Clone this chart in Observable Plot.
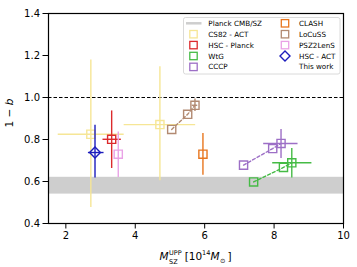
<!DOCTYPE html>
<html><head><meta charset="utf-8">
<script src="https://cdn.jsdelivr.net/npm/d3@7"></script>
<script src="https://cdn.jsdelivr.net/npm/@observablehq/plot@0.6"></script>
<style>body{margin:0;background:#fff} svg{display:block}</style>
</head><body><div id="chart"></div>
<script>
// ---- data ----
const xTicks = [2, 4, 6, 8, 10];
const yTicks = [0.4, 0.6, 0.8, 1.0, 1.2, 1.4];
const planckBand = [{lo: 0.54, hi: 0.62}];
const refLine = [1.0];

const cs82 = [
  {x: 2.72, y: 0.825, x1: 1.78, x2: 3.68, y1: 0.476, y2: 1.178},
  {x: 4.71, y: 0.871, x1: 3.68, x2: 5.74, y1: 0.603, y2: 1.146}
];
const hscPlanck = [{x: 3.32, y: 0.801, x1: 3.07, x2: 3.60, y1: 0.662, y2: 0.936}];
const hscAct = [{x: 2.84, y: 0.738, x1: 2.65, x2: 3.10, y1: 0.617, y2: 0.868}];
const psz2lens = [{x: 3.51, y: 0.730, y1: 0.619, y2: 0.836}];
const clash = [{x: 5.95, y: 0.730, y1: 0.630, y2: 0.829}];
const locuss = [
  {x: 5.05, y: 0.848},
  {x: 5.51, y: 0.920},
  {x: 5.72, y: 0.963, x1: 5.64, x2: 5.80, y1: 0.933, y2: 0.993}
];
const cccp = [
  {x: 7.12, y: 0.678},
  {x: 7.96, y: 0.757},
  {x: 8.20, y: 0.781, x1: 7.70, x2: 8.69, y1: 0.710, y2: 0.848}
];
const wtg = [
  {x: 7.41, y: 0.598},
  {x: 8.27, y: 0.667},
  {x: 8.51, y: 0.689, x1: 7.96, x2: 9.09, y1: 0.617, y2: 0.757}
];

const legendCol1 = ["Planck CMB/SZ", "CS82 - ACT", "HSC - Planck", "WtG", "CCCP"];
const legendCol2 = ["CLASH", "LoCuSS", "PSZ2LenS", "HSC - ACT", "This work"];

// ---- styles ----
const series = [
  {data: cs82, color: "#f6e696", symbol: "square"},
  {data: hscPlanck, color: "#dc2a2c", symbol: "square"},
  {data: psz2lens, color: "#e9a2e6", symbol: "square"},
  {data: clash, color: "#e8761e", symbol: "square"},
  {data: locuss, color: "#b28a72", symbol: "square", connect: true},
  {data: cccp, color: "#9d6fc6", symbol: "square", connect: true},
  {data: wtg, color: "#45bb45", symbol: "square", connect: true},
  {data: hscAct, color: "#1c1cbc", symbol: "diamond2"}
];

const marks = [
  Plot.rect(planckBand, {y1: "lo", y2: "hi", fill: "#cecece"}),
  Plot.ruleY(refLine, {stroke: "black", strokeWidth: 1, strokeDasharray: "3.5,2"})
];
for (const s of series) {
  if (s.connect) marks.push(Plot.line(s.data, {x: "x", y: "y", stroke: s.color, strokeWidth: 1.4, strokeDasharray: "3,2.2"}));
  const ey = s.data.filter(d => d.y1 != null);
  const ex = s.data.filter(d => d.x1 != null);
  marks.push(Plot.ruleX(ey, {x: "x", y1: "y1", y2: "y2", stroke: s.color, strokeWidth: 1.4}));
  marks.push(Plot.ruleY(ex, {y: "y", x1: "x1", x2: "x2", stroke: s.color, strokeWidth: 1.4}));
  marks.push(Plot.dot(s.data, {x: "x", y: "y", symbol: () => s.symbol, r: s.symbol === "square" ? 4.6 : 4.9,
    stroke: s.color, fill: "none", strokeWidth: 1.4}));
}
marks.push(Plot.frame({stroke: "black", strokeWidth: 1.2}));
marks.push(Plot.axisX({ticks: xTicks, tickSize: 5.5, tickPadding: 3, label: null, fontSize: 10}));
marks.push(Plot.axisY({ticks: yTicks, tickSize: 5.5, tickPadding: 3, label: null, tickFormat: d3.format(".1f"), fontSize: 10}));

const chart = Plot.plot({
  width: 357, height: 267,
  marginLeft: 48, marginRight: 14, marginTop: 13, marginBottom: 44,
  x: {domain: [1.5, 10]},
  y: {domain: [0.4, 1.4]},
  style: {fontFamily: "DejaVu Sans", fontSize: "10px", background: "white", color: "black"},
  marks
});
document.getElementById("chart").appendChild(chart);

// ---- labels and legend ----
const svg = d3.select(chart);
const F = "DejaVu Sans";

// y label
const yl = svg.append("text").attr("transform", "translate(13,113) rotate(-90)")
  .attr("text-anchor", "middle").attr("font-family", F).attr("font-size", 10.5).attr("fill", "black");
yl.append("tspan").text("1 \u2212 ");
yl.append("tspan").attr("font-style", "italic").text("b");

// x label
const xg = svg.append("g").attr("font-family", F).attr("fill", "black").attr("text-anchor", "start");
let cx = 0;
function piece(txt, size, dy, italic, advance = true) {
  const t = xg.append("text").attr("x", cx).attr("y", 260 + dy).attr("font-size", size)
    .attr("text-anchor", "start").text(txt);
  if (italic) t.attr("font-style", "italic");
  const w = t.node().getComputedTextLength();
  if (advance) cx += w;
  return w;
}
piece("M", 10.5, 0, true);
const x0 = cx + 0.5;
cx = x0;
const wU = piece("UPP", 6.5, -5, false, false);
const wS = piece("SZ", 6.5, 3.5, false, false);
cx = x0 + Math.max(wU, wS) + 3;
piece("[10", 10.5, 0, false);
piece("14", 6.5, -5, false);
piece("M", 10.5, 0, true);
cx += 0.5;
piece("\u2299", 6.5, 2.5, false);
cx += 2;
piece("]", 10.5, 0, false);
const bb = xg.node().getBBox();
xg.attr("transform", `translate(${195.5 - (bb.x + bb.width / 2)},0)`);

// legend
const lg = svg.append("g").attr("font-family", F).attr("font-size", 7.2).attr("text-anchor", "start");
lg.append("rect").attr("x", 183.5).attr("y", 17.5).attr("width", 156.5).attr("height", 56.5)
  .attr("rx", 2).attr("fill", "white").attr("fill-opacity", 0.85).attr("stroke", "#d0d0d0").attr("stroke-width", 0.8);
const rowY = i => 23.3 + i * 10.9;
const col1Colors = [null, "#f6e696", "#dc2a2c", "#45bb45", "#9d6fc6"];
const col2Colors = ["#e8761e", "#b28a72", "#e9a2e6", "diamond", null];
legendCol1.forEach((t, i) => {
  const y = rowY(i);
  if (i === 0) {
    lg.append("line").attr("x1", 186).attr("x2", 201.5).attr("y1", y).attr("y2", y)
      .attr("stroke", "#cecece").attr("stroke-width", 2.5);
  } else {
    lg.append("rect").attr("x", 193.5 - 3.7).attr("y", y - 3.7).attr("width", 7.4).attr("height", 7.4)
      .attr("fill", "none").attr("stroke", col1Colors[i]).attr("stroke-width", 1.3);
  }
  lg.append("text").attr("x", 208.3).attr("y", y).attr("dy", "0.35em").attr("fill", "black").text(t);
});
legendCol2.forEach((t, i) => {
  const y = rowY(i);
  const c = col2Colors[i];
  if (c === "diamond") {
    lg.append("path").attr("d", `M285,${y - 5}L290,${y}L285,${y + 5}L280,${y}Z`)
      .attr("fill", "none").attr("stroke", "#1c1cbc").attr("stroke-width", 1.4);
  } else if (c) {
    lg.append("rect").attr("x", 285 - 3.7).attr("y", y - 3.7).attr("width", 7.4).attr("height", 7.4)
      .attr("fill", "none").attr("stroke", c).attr("stroke-width", 1.3);
  }
  lg.append("text").attr("x", 299).attr("y", y).attr("dy", "0.35em").attr("fill", "black").text(t);
});
</script></body></html>
